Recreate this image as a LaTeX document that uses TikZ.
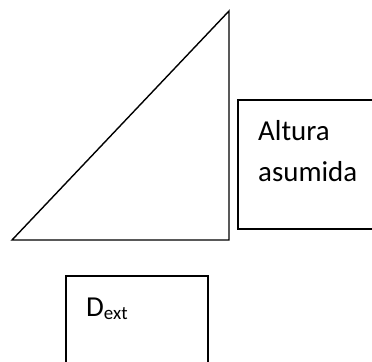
\documentclass[tikz,border=0pt]{standalone}
\usepackage{fontspec}
\setmainfont{Carlito}
\begin{document}
\begin{tikzpicture}[x=1bp,y=-1bp,
  edge/.style={draw=black,line width=1.4bp,line join=miter},
  lbl/.style={anchor=base west,inner sep=0pt,font=\fontsize{29}{29}\selectfont}]
\useasboundingbox (0,0) rectangle (372,362);
\clip (0,0) rectangle (372,362);
\coordinate (bl) at (12,240);
\coordinate (br) at (229,240);
\coordinate (tp) at (229,11);
\draw[edge] (bl) -- (br) -- (tp) -- cycle;
\draw[edge] (238,100) rectangle (380,229);
\draw[edge] (66,276) rectangle (208,370);
\node[lbl] (alt) at (258,140) {Altura};
\node[lbl] (asu) at (258,181) {asumida};
\node[lbl] (dext) at (86,316) {D\raisebox{-0.12em}{\fontsize{19}{19}\selectfont ext}};
\end{tikzpicture}
\end{document}
